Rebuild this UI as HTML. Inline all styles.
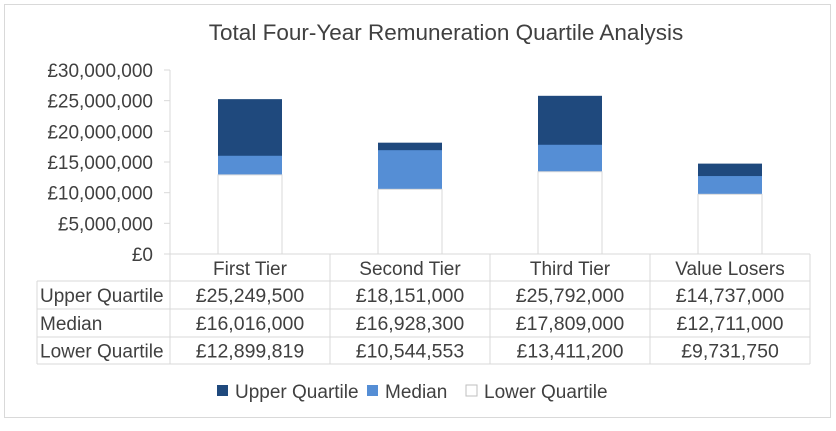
<!DOCTYPE html>
<html><head><meta charset="utf-8"><style>
body{margin:0;background:#fff;font-family:"Liberation Sans",sans-serif;}
svg text{font-family:"Liberation Sans",sans-serif;fill:#404040;}
</style></head><body>
<svg id="c" width="836" height="426">
<rect x="4.5" y="4.5" width="826" height="413" fill="#fff" stroke="#d9d9d9"/>
<text x="446" y="40" font-size="22.5" text-anchor="middle">Total Four-Year Remuneration Quartile Analysis</text>
<g id="g"></g>
</svg>
<script>
const categories=["First Tier","Second Tier","Third Tier","Value Losers"];
const upper=[25249500,18151000,25792000,14737000];
const median=[16016000,16928300,17809000,12711000];
const lower=[12899819,10544553,13411200,9731750];
const ticks=[0,5000000,10000000,15000000,20000000,25000000,30000000];
const seriesNames=["Upper Quartile","Median","Lower Quartile"];
const colors=["#1f497d","#558ed5","#ffffff"];
const x0=170,cw=160,yTop=70,yBot=254,maxV=30000000;
const y=v=>yBot-(v/maxV)*(yBot-yTop);
const g=document.getElementById('g');
const NS="http://www.w3.org/2000/svg";
function mk(t,a,txt){const e=document.createElementNS(NS,t);for(const k in a)e.setAttribute(k,a[k]);if(txt!=null)e.textContent=txt;g.appendChild(e);return e;}
const fmt=v=>"£"+v.toLocaleString("en-GB");
ticks.forEach(t=>{
 const e=mk('text',{x:153,y:y(t)+7,'font-size':19,'text-anchor':'end'},fmt(t));
 
 
 const l=mk('line',{x1:164,x2:170,y1:y(t),y2:y(t),stroke:'#d9d9d9'});
 
 
});
const ax=mk('line',{x1:170,x2:170,y1:yTop,y2:yBot,stroke:'#d9d9d9'});


const series=[upper,median,lower];
categories.forEach((c,i)=>{
 const cx=x0+cw*i+cw/2,bw=64;
 series.forEach((s,j)=>{
  const r=mk('rect',{x:cx-bw/2,y:y(s[i]),width:bw,height:yBot-y(s[i]),fill:colors[j],stroke:j==2?'#d9d9d9':'none'});
  
  
 });
});
const rows=[yBot,281,309,337,364];
const tl=37,tr=810;
mk('line',{x1:x0,x2:tr,y1:yBot,y2:yBot,stroke:'#d9d9d9'});
for(let k=1;k<rows.length;k++){mk('line',{x1:tl,x2:tr,y1:rows[k],y2:rows[k],stroke:'#d9d9d9'});}
mk('line',{x1:tl,x2:tl,y1:281,y2:364,stroke:'#d9d9d9'});
for(let i=0;i<=4;i++)mk('line',{x1:x0+cw*i,x2:x0+cw*i,y1:yBot,y2:364,stroke:'#d9d9d9'});
categories.forEach((c,i)=>{
 const e=mk('text',{x:x0+cw*i+cw/2,y:275,'font-size':19,'text-anchor':'middle'},c);
 
 
});
series.forEach((s,j)=>{
 const ry=(rows[j+1]+rows[j+2])/2+7;
 const h=mk('text',{x:40,y:ry,'font-size':19},seriesNames[j]);
 
 
 s.forEach((v,i)=>{
  const e=mk('text',{x:x0+cw*i+cw/2,y:ry,'font-size':19.5,'text-anchor':'middle'},fmt(v));
  
  
 });
});
const lx=[217,367,466];
seriesNames.forEach((n,j)=>{
 const r=mk('rect',{x:lx[j],y:385,width:11,height:11,fill:colors[j],stroke:j==2?'#bfbfbf':'none'});
 
 
 const t=mk('text',{x:lx[j]+18,y:398,'font-size':19},n);
 
 
});
</script>
</body></html>
